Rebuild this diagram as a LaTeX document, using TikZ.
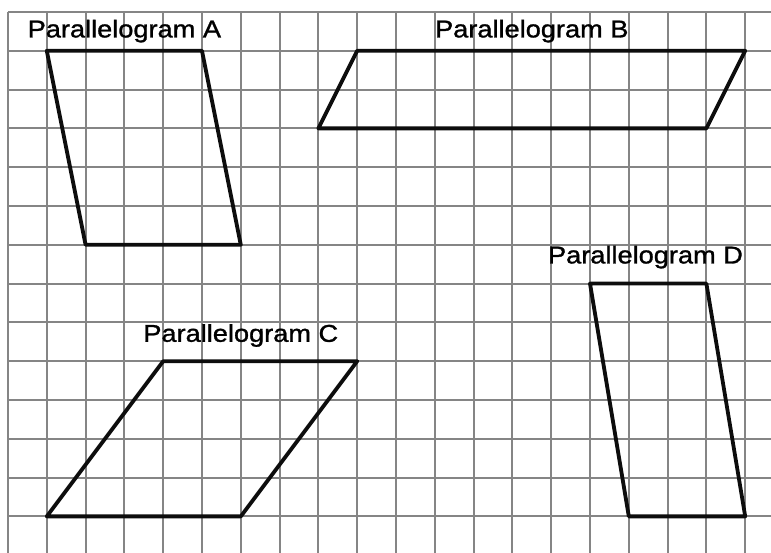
\documentclass[tikz,border=0pt]{standalone}
\usepackage{fontspec}
\setmainfont{Liberation Sans}[FakeStretch=1.12,FakeBold=1.2]
\usetikzlibrary{positioning}

\begin{document}
\begin{tikzpicture}[font=\fontsize{17.8}{20}\selectfont,gridline/.style={draw=black!48,line width=1.4pt},pgram/.style={draw=black!95,line width=2.8pt,line join=round},lbl/.style={anchor=base,inner sep=0pt}]
\useasboundingbox (-0.206,0.309) rectangle (19.665,-13.918);
\begin{scope}
\clip (-0.5,0.5) rectangle (19.665,-13.918);
\draw[gridline] (0,-15) grid (20,0);
\end{scope}
% the four parallelograms
\draw[pgram] (1,-1) -- (5,-1) -- (6,-6) -- (2,-6) -- cycle;
\draw[pgram] (9,-1) -- (19,-1) -- (18,-3) -- (8,-3) -- cycle;
\draw[pgram] (4,-9) -- (9,-9) -- (6,-13) -- (1,-13) -- cycle;
\draw[pgram] (15,-7) -- (18,-7) -- (19,-13) -- (16,-13) -- cycle;
% labels
\node[lbl] (labA) at (3,-0.655) {Parallelogram A};
\node[lbl] (labB) at (13.5,-0.655) {Parallelogram B};
\node[lbl] (labC) at (6,-8.5) {Parallelogram C};
\node[lbl] (labD) at (16.43,-6.48) {Parallelogram D};
\end{tikzpicture}
\end{document}
